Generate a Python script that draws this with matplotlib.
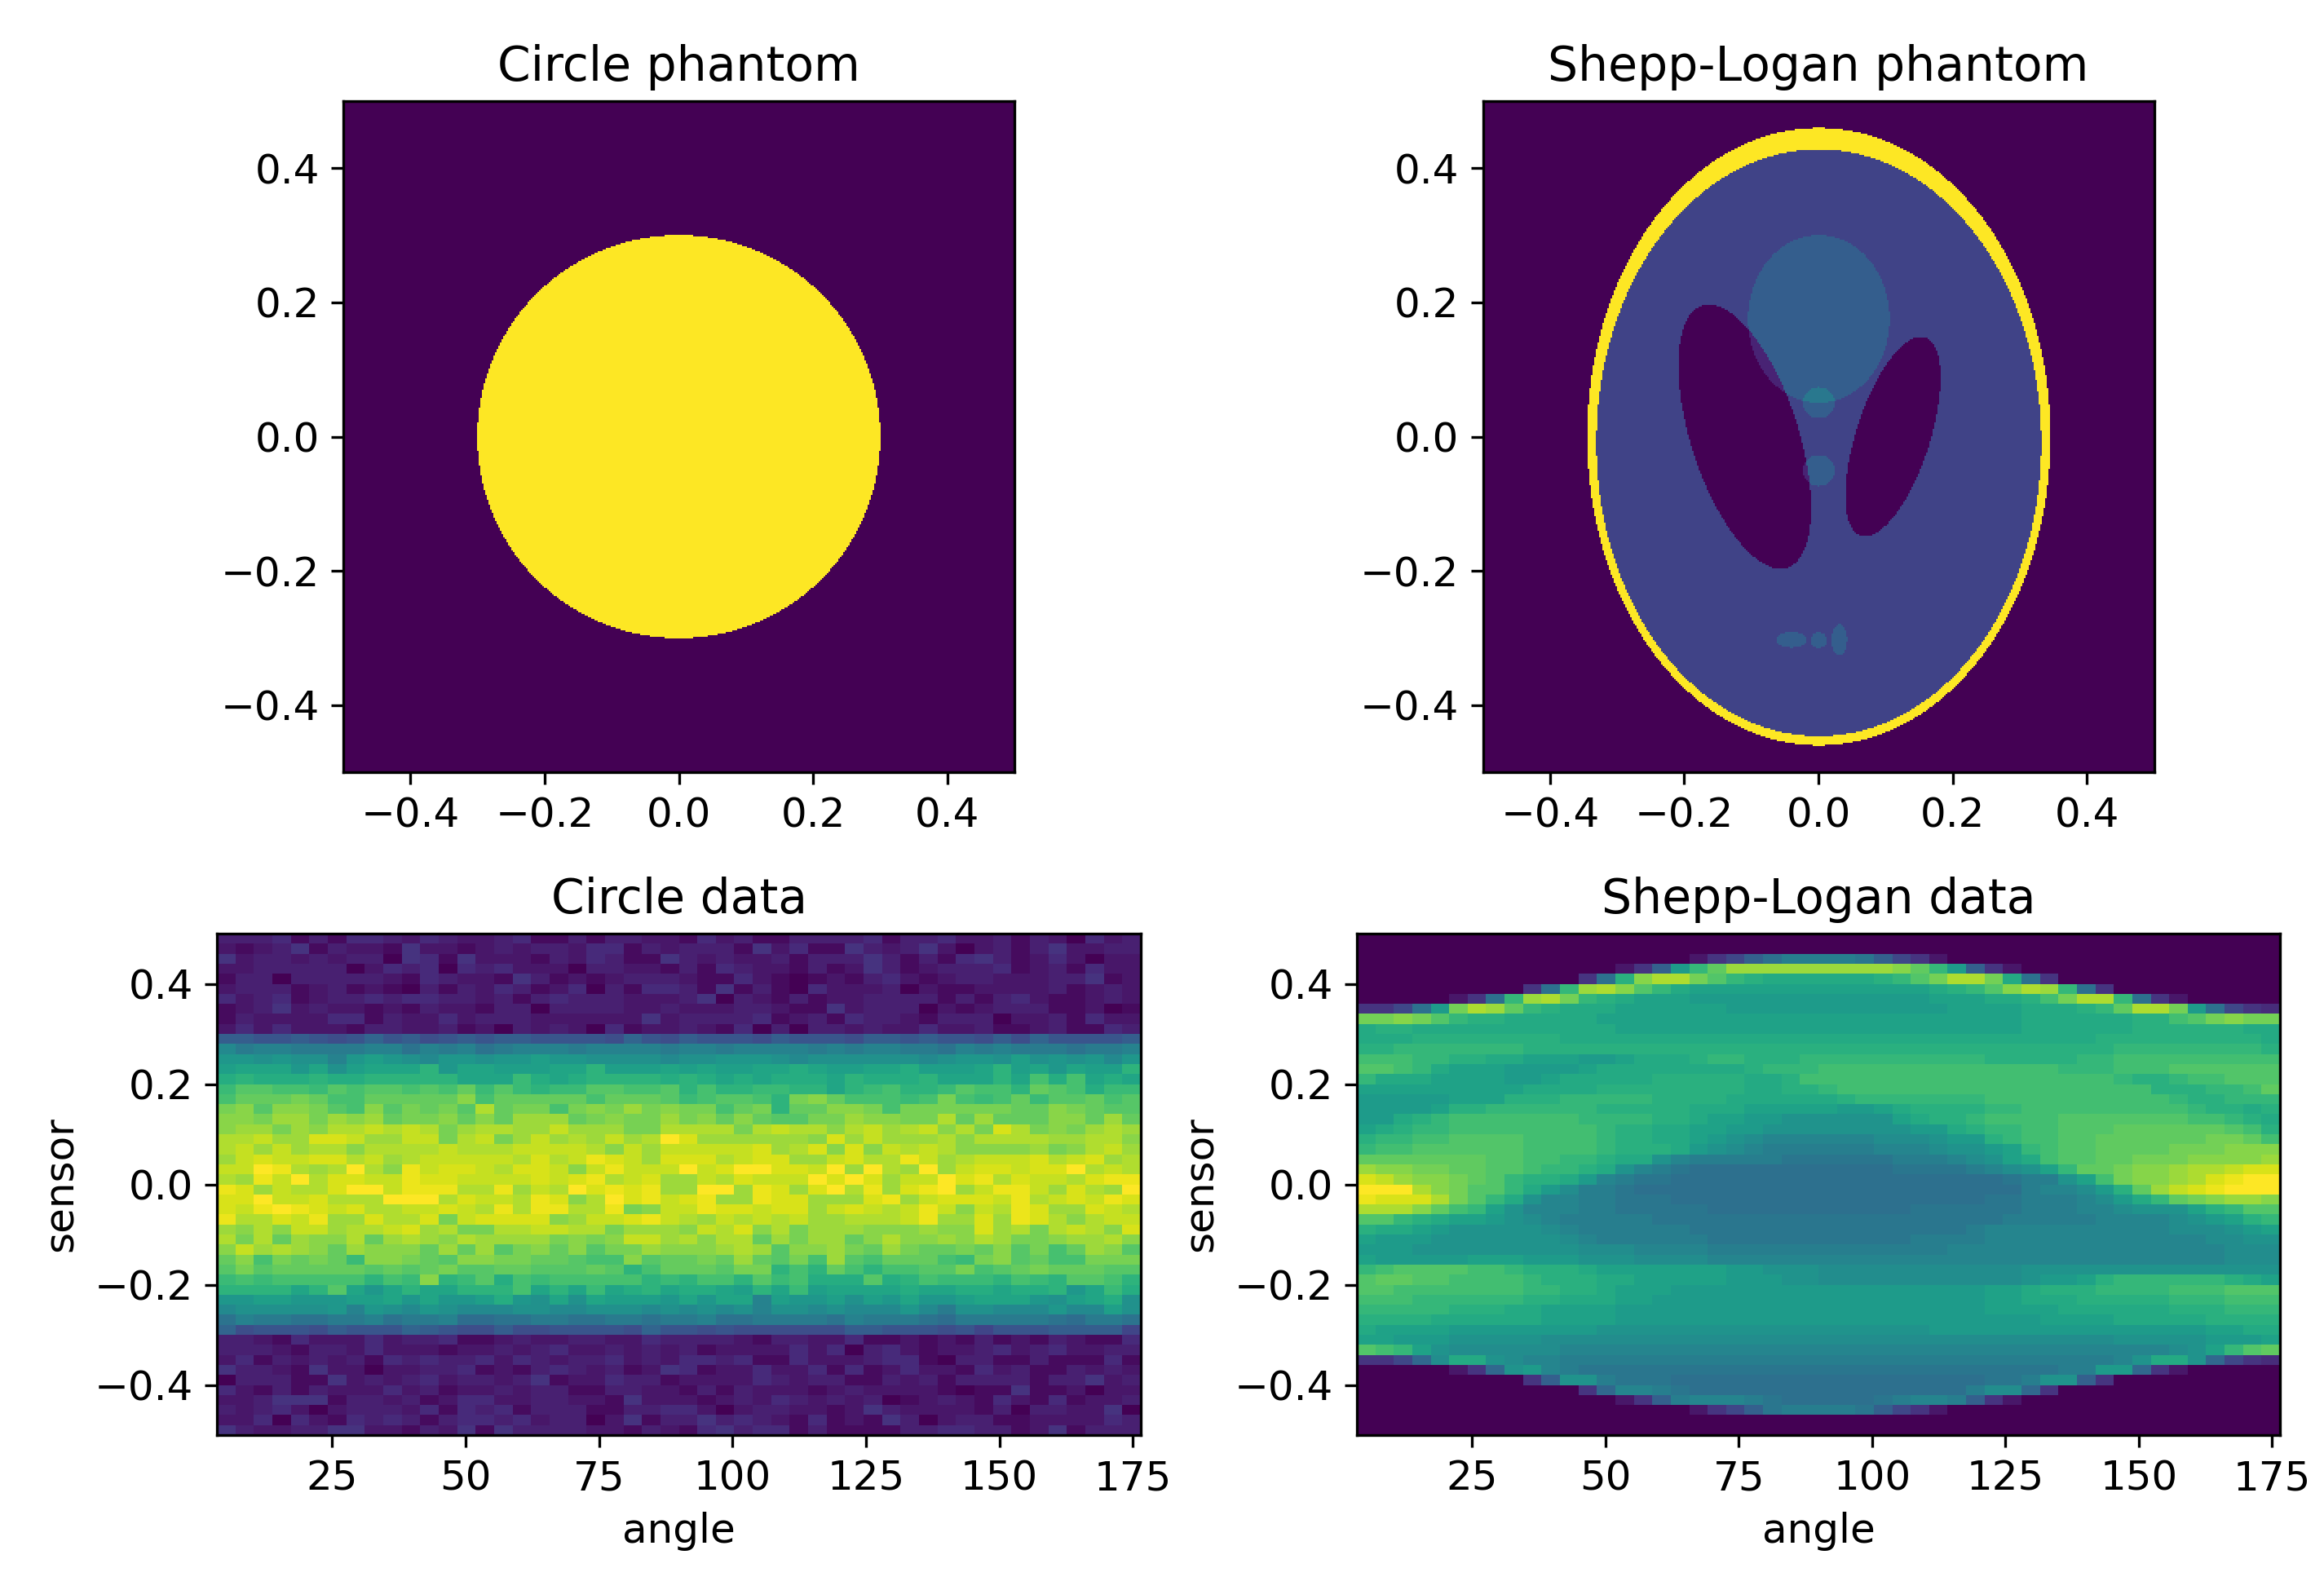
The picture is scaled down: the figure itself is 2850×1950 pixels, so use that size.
import numpy as np
import matplotlib
matplotlib.use('Agg')
import matplotlib.pyplot as plt

plt.rcParams['font.size'] = 12
plt.rcParams['axes.titlesize'] = 14

# levels in the sinograms are written per cell, 0-9 then a-z (0 = low, z = high)
CIRCLE_TOP_LEVEL = 34
SHEPP_TOP_LEVEL = 33

SENSOR_LIM = [-0.5, 0.5]
ANGLE_LIM = [3.4, 176.5]
ANGLE_TICKS = [25, 50, 75, 100, 125, 150, 175]

# contrast, semi axis x, semi axis y, centre x, centre y, tilt in degrees
CIRCLE_ELLIPSES = [
    (1.0, 0.3, 0.3, 0.0, 0.0, 0),
]
SHEPP_ELLIPSES = [
    (1.0, 0.345, 0.46, 0.0, 0.0, 0),
    (-0.8, 0.3312, 0.437, 0.0, -0.0092, 0),
    (-0.2, 0.055, 0.155, 0.11, 0.0, -18),
    (-0.2, 0.08, 0.205, -0.11, 0.0, 18),
    (0.1, 0.105, 0.125, 0.0, 0.175, 0),
    (0.1, 0.023, 0.023, 0.0, 0.05, 0),
    (0.1, 0.023, 0.023, 0.0, -0.05, 0),
    (0.1, 0.023, 0.0115, -0.04, -0.3025, 0),
    (0.1, 0.0115, 0.0115, 0.0, -0.303, 0),
    (0.1, 0.0115, 0.023, 0.03, -0.3025, 0),
]

# top row first, left column first
CIRCLE_ROWS = [
    "3334131443" "2432234113" "13322" "1423113333" "4133422313" "20423",
    "2123513221" "5221232332" "44132" "3331524115" "3235202313" "52233",
    "5233232330" "5415222132" "43115" "3232231333" "5313145312" "42022",
    "2233333024" "3404342220" "33221" "3143221312" "5312333412" "31422",
    "1330333332" "1432215312" "12333" "2114210121" "3421233222" "33512",
    "2333123121" "0313243124" "03144" "3151310422" "2302112222" "31232",
    "4234123343" "4433231343" "33222" "3503213122" "3333131342" "11232",
    "1235232212" "1322133033" "33223" "2223321152" "3330212333" "11201",
    "1322224413" "2242333222" "22252" "3333412314" "3321333022" "31422",
    "2424222133" "2231203232" "04122" "3214030332" "3224223112" "31143",
    "aa99a989b9" "a89a9aa999" "98b98" "a9998a9998" "aa9a998a8b" "9999a",
    "geffeeeeff" "dfefdefffe" "ffffe" "ffeffffefe" "ffeedfefee" "edeef",
    "iihihhfiji" "hgiihiijii" "hhhhg" "hhiiihghhh" "hhhghiihjh" "ihigi",
    "jkkkikhjkk" "kmikkjjjkk" "mjjjk" "jkjjkklkjj" "kkljjjkmjk" "ikjjm",
    "lmlllmllmm" "mmmkkknlkl" "mmmml" "mlklklllkm" "lllmkkkmko" "loklk",
    "nppoonpopp" "opoqnpnmnn" "ppoop" "mommnnmmkm" "nommnpoomq" "polnn",
    "oqqqrqooqq" "qqqsoqqqqq" "oqqqp" "noppomrsqo" "oonoronoqn" "ppqop",
    "rspssrposp" "rqrpuqrror" "srtrs" "rroqrmqqss" "rorrrrrrqq" "srqpp",
    "ssrttrtstq" "rrsqsqtttq" "rsrrt" "rsqsqpprrt" "ssrruqtqqq" "ssqtq",
    "sttrtsuuvu" "vurtuuttvt" "ttrru" "uuuruvuusu" "vtuvsurwur" "srtut",
    "uuvttwwvtt" "vvruvrtvtu" "tvtuy" "wttttttswt" "vtttusuuuu" "ttuus",
    "uvtvtuusuu" "uuvuuuvvvv" "usvtv" "vvvvwtuwsw" "svuvusssst" "rsuvt",
    "tvwvvwwuvt" "uvvvvvuwuv" "xwvtw" "wwuvwwttvw" "uuxvtuvvvw" "uvwtu",
    "vvyxutuyus" "xvwwvuwwvs" "vxvvv" "yvwzywwvzt" "yutytvwwvw" "wyuvu",
    "utxvzuwwvv" "xwwvvvvwvw" "xuvwt" "tvuwvvvywy" "wtvvywxuwv" "vuwxx",
    "xwtvuuwyzv" "xxxuuxtvuy" "wxwxt" "tyztxwtwzu" "xtwxztvxxv" "twutz",
    "wwyvvwuuuy" "yyuwvvuxws" "uywxv" "wxttxwwttt" "wxtvwwwvxu" "vwvxw",
    "wvxzxwvwuu" "vvwvuxuxxu" "uxrsv" "vxwwvwwtvw" "vuvxvsvuxw" "ttwvu",
    "xuuwvxttwu" "uwrvwwwwst" "vvwxv" "utvuvuvttu" "uuvxttwtxw" "usuvv",
    "tsusvvtuuv" "wturruuvvu" "urttt" "svuwsurttt" "ssstsswtur" "uvusw",
    "uruqtssuqt" "utsuttttrs" "rsvvt" "usuuqtrttq" "susstsutrr" "sttus",
    "svtutsqtss" "sqtqtprsqs" "prrts" "sstutpsstr" "qtrqqrqspr" "oqtsp",
    "qsorqrqnss" "rqpssrrqqp" "oospq" "qrqtqprotp" "oqqqonrspq" "oorrr",
    "prpqqqqqpq" "pqrppqqppp" "qpmoq" "qqprrmomqo" "mooppropqr" "qqqpp",
    "nonooooomo" "nsmnplonoo" "ooomn" "moompnolll" "plmonnnmon" "mppom",
    "mmmmkmpkik" "mkkmmmokmk" "nklmk" "llkjmknjkk" "kklkkllkll" "miknl",
    "iijjiiijjk" "ikiijlihkh" "kjjji" "kikkfjiijh" "jikiijkkki" "hjklh",
    "ghhhhhifih" "gihggghhgg" "hhhgh" "ghghfhhghg" "ggigehhggg" "iggjh",
    "dfeeddeefd" "eefccddeed" "deede" "efddeeeedf" "eeedceeeee" "dceed",
    "b89998a999" "ba988a8899" "998b9" "989888888a" "a999897999" "aaaa7",
    "3321422242" "3341123223" "32243" "3332133224" "1121213121" "32114",
    "3332133242" "2212232342" "23232" "3122224240" "3421223423" "42233",
    "2413232314" "3433424323" "34232" "4434114222" "3441033113" "11141",
    "5332152202" "2334121343" "23125" "4122422414" "1242214231" "13232",
    "0333115232" "3423323512" "24331" "2222432331" "1323133331" "33523",
    "4213132224" "2312232331" "13322" "1313222123" "2222101151" "12022",
    "2235551332" "3124422332" "21522" "2123243232" "3012321421" "41223",
    "3234202333" "2414341333" "11334" "4202332212" "5322221303" "32250",
    "2240421434" "3134434233" "02513" "3534321412" "1530233112" "22243",
    "5322335522" "1325153333" "22132" "1453441311" "1133443312" "51333",
]

SHEPP_ROWS = [
    "0" * 50,
    "0" * 50,
    "0" * 18 + "257aceeeeda752" + "0" * 18,
    "0" * 14 + "25aimp" + "s" * 9 + "rpmia52" + "0" * 14,
    "0" * 12 + "5clrttqom" + "lkkkkkkl" + "moqttqkc5" + "0" * 12,
    "0" * 9 + "5cmstromk" + "j" * 12 + "jklmortsmc5" + "0" * 9,
    "0" * 5 + "25cmstqmlk" + "jjj" + "i" * 13 + "jjj" + "kklnqttmc52" + "0" * 5,
    "557ci" + "qtspm" + "lkkk" + "j" * 6 + "i" * 12 + "j" * 4 + "kkkl" + "mpttq" + "ic754",
    "qqrqomll" + "k" * 5 + "j" * 23 + "k" * 6 + "ll" + "n" + "o" + "qrqq",
    "kll" + "k" * 11 + "j" * 22 + "k" * 6 + "l" * 6 + "kk",
    "kkk" + "l" * 8 + "kkk" + "k" * 22 + "kkkk" + "l" * 9 + "k",
    "ll" + "m" * 7 + "l" * 5 + "l" * 22 + "l" * 5 + "m" * 8 + "l",
    "nnnm" + "mll" + "kk" + "jjj" + "ii" + "j" + "kkk" + "l" + "mm" + "lll" + "m" + "m" * 9 + "l" * 5 + "mm" + "n" * 9,
    "oonmk" + "jjj" + "iii" + "ij" + "k" * 8 + "lmmm" + "n" * 13 + "mmm" + "nnnoooooo",
    "mkkkj" + "jjj" + "ii" + "jkkkkk" + "l" * 5 + "kkl" + "nn" + "n" * 15 + "mll" + "mnnooo",
    "j" * 9 + "kkkkllllllllkk" + "llm" + "n" * 17 + "lllmmnp",
    "iiiiijjj" + "lllmmmmmllll" + "kkkk" + "kkl" + "m" * 7 + "n" * 10 + "mllmmm",
    "iiiij" + "llmmmmmm" + "lllll" + "kkk" + "jjjj" + "jiijklll" + "l" + "mm" + "n" * 9 + "mllkl",
    "iikl" + "mnnnnnnn" + "mmmm" + "ll" + "k" + "jj" + "ii" + "h" * 6 + "jkllm" + "nnnn" + "o" * 7 + "nnmlk",
    "jklmm" + "n" * 8 + "m" + "ll" + "kk" + "jj" + "ii" + "h" * 8 + "ii" + "kl" + "mm" + "nn" + "ooo" + "p" * 6 + "onl",
    "lmmnn" + "oooo" + "nnnn" + "m" + "ll" + "kk" + "jihg" + "f" * 6 + "gg" + "ghii" + "lm" + "nn" + "oo" + "p" * 6 + "qqpn",
    "mnnoo" + "oooo" + "nnnn" + "mll" + "l" + "k" + "ihgf" + "e" * 6 + "ff" + "fg" + "hh" + "ij" + "mn" + "oo" + "pppp" + "qqq" + "rrr",
    "p" * 7 + "oo" + "nn" + "mm" + "lkk" + "hf" + "e" * 5 + "d" * 6 + "eee" + "fgh" + "j" + "kn" + "oo" + "pp" + "qqq" + "rrrrs",
    "srrqq" + "ppoo" + "nmmlk" + "hfed" + "c" * 11 + "dddd" + "efg" + "hj" + "mpp" + "qrr" + "stt" + "uvv",
    "vusrrq" + "pomllkifeddc" + "c" * 16 + "cdeehjnqrrstvwyz",
    "yyxtrqoomkigeed" + "c" * 21 + "effgilpsu" + "vwxyy",
    "wvvvtqomkhffee" + "ddd" + "c" * 17 + "ddeeefgikmpqrssr",
    "tttrpnmjhfffee" + "ddddd" + "c" * 11 + "dddd" + "ddeeeffghhhjlmoo",
    "oomlkjjihgfeee" + "ee" + "d" * 19 + "eeeee" + "ffff" + "ghijlm",
    "lkkjihhhhhgfee" + "eeee" + "d" * 15 + "e" + "f" * 10 + "ggghij",
    "jiiihhhhhhhgfe" + "eeeee" + "d" * 11 + "eeee" + "f" * 12 + "gghh",
    "iiihhhhhhhhhgg" + "gffff" + "e" * 13 + "ffff" + "f" * 11 + "ggg",
    "jiiiiijjjiiihh" + "hgggg" + "f" * 28 + "ggg",
    "mnoooonnmlllkj" + "jjjjjjiihhh" + "g" * 11 + "h" * 14,
    "oppoonnnnmlllk" + "kjjjjjiiihh" + "g" * 11 + "hiijlmmmmmmlkj",
    "oonnnnnnnmmllk" + "jjj" + "i" * 17 + "jjklllmmmmnnnooo",
    "nnnmmmmmmllkkk" + "jj" + "i" * 18 + "jjkk" + "kll" + "lll" + "mmm" + "nnn",
    "mmmmmlllkkjjjj" + "i" * 20 + "jjjj" + "k" * 6 + "lll" + "mmm",
    "llllkkkkkkjjjj" + "i" * 20 + "iiijjjj" + "kkkkk" + "llll",
    "kjjjjiiiiiiiih" + "h" * 17 + "i" * 10 + "iiii" + "ijjkk",
    "jjiiihhhhhgggg" + "g" * 27 + "hhhhh" + "iiij",
    "onmjhggggggfff" + "f" * 30 + "ghjmop",
    "557bgkkhgffeee" + "e" * 27 + "fhkkhb754",
    "0" * 5 + "25bhif" + "e" + "d" * 25 + "deeiib52" + "0" * 5,
    "0" * 9 + "5ahhe" + "ddd" + "c" * 17 + "dd" + "ehha5" + "0" * 9,
    "0" * 12 + "5bffed" + "c" * 15 + "eggb5" + "0" * 12,
    "0" * 14 + "25aef" + "ffed" + "ccccc" + "deffea52" + "0" * 14,
    "0" * 18 + "257ade" + "eee" + "da752" + "0" * 18,
    "0" * 50,
    "0" * 50,
]


def rows_to_array(rows, top_level):
    bad = [i for i, r in enumerate(rows) if len(r) != 50]
    assert not bad and len(rows) == 50, (len(rows), bad)
    return np.array([[int(c, 36) for c in r] for r in rows], dtype=float)[::-1] / top_level


def raster(ellipses, size=411):
    centres = (np.arange(size) + 0.5) / size - 0.5
    xx, yy = np.meshgrid(centres, centres)
    img = np.zeros_like(xx)
    for value, ax_x, ax_y, cx, cy, tilt in ellipses:
        t = np.radians(tilt)
        u = (xx - cx) * np.cos(t) + (yy - cy) * np.sin(t)
        v = -(xx - cx) * np.sin(t) + (yy - cy) * np.cos(t)
        img[(u / ax_x) ** 2 + (v / ax_y) ** 2 <= 1] += value
    return img


W, H = 2850.0, 1950.0


def place(left, top, right, bottom):
    return [left / W, 1 - bottom / H, (right - left) / W, (bottom - top) / H]


fig = plt.figure(figsize=(9.5, 6.5), dpi=300)

ax = fig.add_axes(place(421, 124, 1244, 947))
ax.imshow(raster(CIRCLE_ELLIPSES), origin='lower', extent=SENSOR_LIM + SENSOR_LIM,
          cmap='viridis', vmin=0, vmax=1, interpolation='nearest')
ax.set_title('Circle phantom')

ax = fig.add_axes(place(1818.5, 124, 2641.5, 947))
ax.imshow(raster(SHEPP_ELLIPSES), origin='lower', extent=SENSOR_LIM + SENSOR_LIM,
          cmap='viridis', vmin=0, vmax=1, interpolation='nearest')
ax.set_title('Shepp-Logan phantom')

angle_edges = np.linspace(ANGLE_LIM[0], ANGLE_LIM[1], 51)
sensor_edges = np.linspace(SENSOR_LIM[0], SENSOR_LIM[1], 51)

ax = fig.add_axes(place(266, 1145, 1399, 1760))
ax.pcolormesh(angle_edges, sensor_edges, rows_to_array(CIRCLE_ROWS, CIRCLE_TOP_LEVEL),
              cmap='viridis', vmin=0, vmax=1)
ax.set_xticks(ANGLE_TICKS)
ax.set_title('Circle data')
ax.set_xlabel('angle')
ax.set_ylabel('sensor')

ax = fig.add_axes(place(1664, 1145, 2796, 1760))
ax.pcolormesh(angle_edges, sensor_edges, rows_to_array(SHEPP_ROWS, SHEPP_TOP_LEVEL),
              cmap='viridis', vmin=0, vmax=1)
ax.set_xticks(ANGLE_TICKS)
ax.set_title('Shepp-Logan data')
ax.set_xlabel('angle')
ax.set_ylabel('sensor')

fig.savefig('out.png', dpi=300)
